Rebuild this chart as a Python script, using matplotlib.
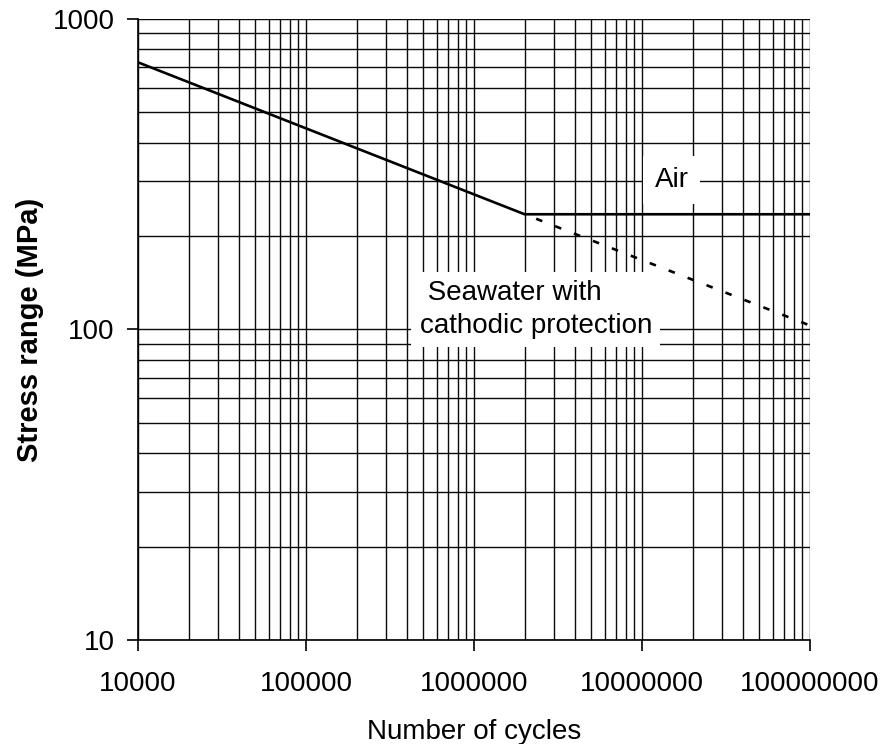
import numpy as np
import matplotlib.pyplot as plt
from matplotlib.ticker import LogLocator, FixedLocator, NullFormatter

plt.rcParams['font.family'] = ['Liberation Sans', 'DejaVu Sans']

# S-N curve points (cycles, stress range in MPa)
air_cycles = [1e4, 2e6, 1e8]
air_stress = [725, 235, 235]
sea_cycles = [2e6, 1e8]
sea_stress = [235, 103]

x_ticks = [1e4, 1e5, 1e6, 1e7, 1e8]
x_ticklabels = ['10000', '100000', '1000000', '10000000', '100000000']
y_ticks = [10, 100, 1000]
y_ticklabels = ['10', '100', '1000']

fig = plt.figure(figsize=(8.86, 7.44), dpi=100)
ax = fig.add_axes([0.1558, 0.1398, 0.7584, 0.8347])
ax.set_xscale('log')
ax.set_yscale('log')
ax.set_xlim(1e4, 1e8)
ax.set_ylim(10, 1000)

ax.plot(air_cycles, air_stress, color='black', lw=1.9, zorder=3,
        solid_joinstyle='miter')
ax.plot(sea_cycles, sea_stress, color='black', lw=1.9, zorder=3,
        linestyle=(3, (2.5, 5.2)))

ax.xaxis.set_major_locator(FixedLocator(x_ticks))
ax.yaxis.set_major_locator(FixedLocator(y_ticks))
ax.set_xticklabels(x_ticklabels)
ax.set_yticklabels(y_ticklabels)
ax.xaxis.set_minor_locator(LogLocator(base=10, subs=np.arange(2, 10)))
ax.yaxis.set_minor_locator(LogLocator(base=10, subs=np.arange(2, 10)))
ax.xaxis.set_minor_formatter(NullFormatter())
ax.yaxis.set_minor_formatter(NullFormatter())

ax.grid(True, which='both', color='#0a0a0a', lw=1.0)
ax.set_axisbelow(True)
ax.tick_params(which='major', direction='out', length=8, width=1.2,
               labelsize=20, pad=9, colors='black')
ax.tick_params(which='minor', length=0)
ax.tick_params(axis='x', pad=14)

for side in ['top', 'right']:
    ax.spines[side].set_visible(False)
for side in ['left', 'bottom']:
    ax.spines[side].set_linewidth(1.2)

ax.set_xlabel('Number of cycles', fontsize=20, labelpad=16)
ax.set_ylabel('Stress range (MPa)', fontsize=21, fontweight='bold', labelpad=6)

ax.text(1.5e7, 303, 'Air', fontsize=20, ha='center', va='center', zorder=4,
        bbox=dict(facecolor='white', edgecolor='none', pad=8))
ax.text(4.75e5, 116, ' Seawater with\ncathodic protection', fontsize=20,
        ha='left', va='center', linespacing=1.35, zorder=4,
        bbox=dict(facecolor='white', edgecolor='none', pad=6))

fig.savefig('out.png', dpi=100)
